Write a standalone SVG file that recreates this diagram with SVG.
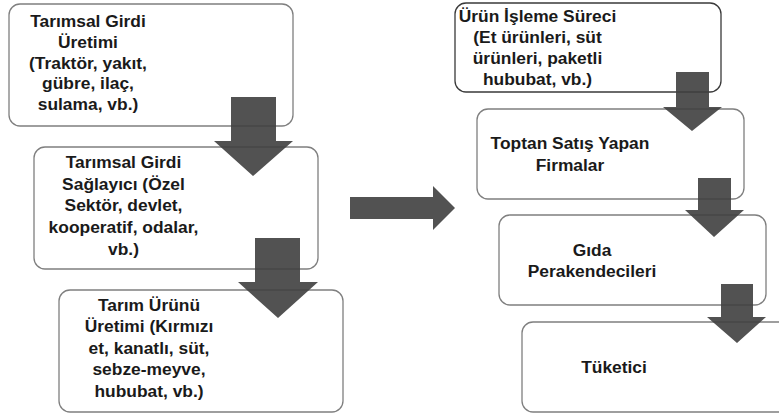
<svg xmlns="http://www.w3.org/2000/svg" width="779" height="414" viewBox="0 0 779 414">
<style>
.box{fill:#fff;stroke:#7f7f7f;stroke-width:1.3}
.box.dark{stroke:#3a3a3a}
.arr{fill:#3f3f3f;fill-opacity:0.9}
text{font-family:"Liberation Sans",Arial,sans-serif;font-weight:bold;font-size:17.4px;fill:#1a1a1a;text-anchor:middle}
</style>
<rect width="779" height="414" fill="#fff"/>
<g id="n1"><rect class="box" x="9" y="4" width="284" height="122" rx="11"/>
<text><tspan x="88" y="27">Tarımsal Girdi</tspan><tspan x="88" y="48">Üretimi</tspan><tspan x="88" y="68.5">(Traktör, yakıt,</tspan><tspan x="88" y="89">gübre, ilaç,</tspan><tspan x="88" y="110">sulama, vb.)</tspan></text></g>
<g id="n2"><rect class="box" x="34" y="147" width="284" height="122" rx="11"/>
<text><tspan x="123.5" y="168">Tarımsal Girdi</tspan><tspan x="123.5" y="190">Sağlayıcı (Özel</tspan><tspan x="123.5" y="211">Sektör, devlet,</tspan><tspan x="123.5" y="233">kooperatif, odalar,</tspan><tspan x="123.5" y="255">vb.)</tspan></text></g>
<g id="n3"><rect class="box" x="59" y="290" width="284" height="122" rx="11"/>
<text><tspan x="149" y="311">Tarım Ürünü</tspan><tspan x="149" y="332">Üretimi (Kırmızı</tspan><tspan x="149" y="353.5">et, kanatlı, süt,</tspan><tspan x="149" y="375">sebze-meyve,</tspan><tspan x="149" y="397">hububat, vb.)</tspan></text></g>
<g id="n4"><rect class="box dark" x="455" y="3" width="266" height="89" rx="11"/>
<text><tspan x="537.5" y="21.5">Ürün İşleme Süreci</tspan><tspan x="537.5" y="42.5">(Et ürünleri, süt</tspan><tspan x="537.5" y="63.5">ürünleri, paketli</tspan><tspan x="537.5" y="85">hububat, vb.)</tspan></text></g>
<g id="n5"><rect class="box" x="477" y="109" width="267" height="90" rx="11"/>
<text><tspan x="570" y="149">Toptan Satış Yapan</tspan><tspan x="570" y="171">Firmalar</tspan></text></g>
<g id="n6"><rect class="box" x="499" y="215" width="267" height="90" rx="11"/>
<text><tspan x="592" y="256">Gıda</tspan><tspan x="592" y="277">Perakendecileri</tspan></text></g>
<g id="n7"><rect class="box" x="522" y="322" width="280" height="90" rx="11"/>
<text x="614" y="373">Tüketici</text></g>
<g id="connectors">
<polygon class="arr" points="231,97 276,97 276,141 293,141 253,176 214,141 231,141"/>
<polygon class="arr" points="255,238 300,238 300,282 318,282 278,318 238,282 255,282"/>
<polygon class="arr" points="350,197 433,197 433,186 455,208 433,230 433,219 350,219"/>
<polygon class="arr" points="676,72 709,72 709,107 722,107 692,131 663,107 676,107"/>
<polygon class="arr" points="698,178 731,178 731,210 744,210 714,237 685,210 698,210"/>
<polygon class="arr" points="721,284 753,284 753,317 766,317 737,343 707,317 721,317"/>
</g>
</svg>
